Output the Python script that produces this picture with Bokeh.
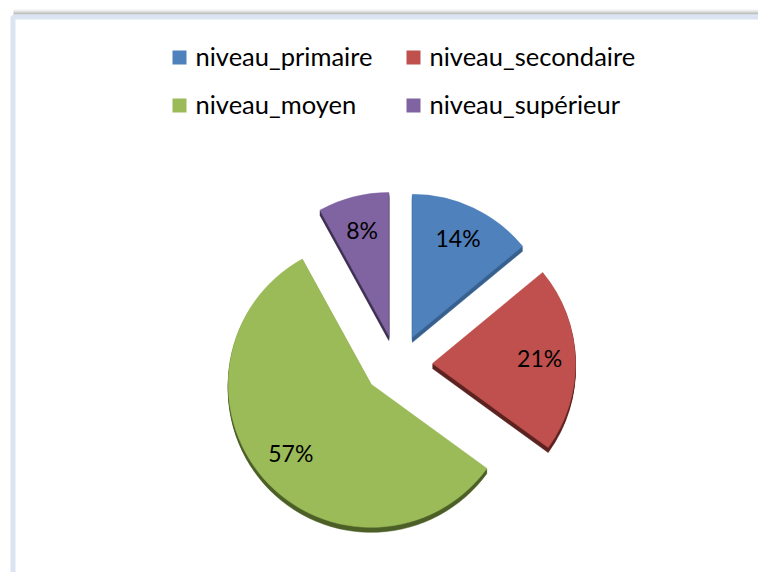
import numpy as np
from bokeh.plotting import figure
from bokeh.models import Range1d, ColumnDataSource
from bokeh.core.properties import value
from bokeh.embed import file_html
from bokeh.resources import INLINE

# ---- data ----
categories = ["niveau_primaire", "niveau_secondaire", "niveau_moyen", "niveau_supérieur"]
percentages = [14, 21, 57, 8]
labels = ["14%", "21%", "57%", "8%"]
top_colors = ["#4f81bd", "#c0504d", "#9bbb59", "#8064a2"]
side_colors = ["#37608f", "#5c2220", "#4b5f26", "#3e3052"]

# ---- layout ----
W, H = 758, 572


def sy(y):
    """picture y (from top) -> data y"""
    return H - y


p = figure(width=W, height=H, output_backend="svg", toolbar_location=None,
           x_range=Range1d(0, W), y_range=Range1d(0, H),
           x_axis_type=None, y_axis_type=None, min_border=0,
           background_fill_color="white", border_fill_color="white")
p.outline_line_color = None
p.grid.visible = False

# frame shadow (above the top edge)
shadow = [("#f1f1f1", 9), ("#e3e3e3", 10), ("#d0d0d0", 11), ("#b8b8b8", 12), ("#a4a4a4", 13)]
for col, yy in shadow:
    p.segment(x0=[13], y0=[sy(yy + 0.5)], x1=[800], y1=[sy(yy + 0.5)], line_color=col, line_width=1)
# chart frame
p.quad(left=[12.5], right=[820], top=[sy(16.5)], bottom=[-50], fill_color="white",
       line_color="#dbe5f1", line_width=5)

# ---- pie geometry ----
frac = np.array(percentages, dtype=float) / sum(percentages)
ends = np.cumsum(frac) * 360.0
starts = ends - frac * 360.0
mids = np.deg2rad((starts + ends) / 2.0)
CX, CY = 397.0, sy(364)
R = 143.0
EX, EY = 35.0, 30.0
DEPTH = 5
xs = CX + EX * np.sin(mids)
ys = CY + EY * np.cos(mids)
sa = np.deg2rad(90.0 - ends)
ea = np.deg2rad(90.0 - starts)

# side (3D thickness)
for k in range(1, DEPTH + 1):
    p.wedge(x=list(xs), y=list(ys - k), radius=R, start_angle=list(sa), end_angle=list(ea),
            direction="anticlock", fill_color=side_colors,
            line_color=side_colors, line_width=0.5)

src = ColumnDataSource(dict(x=xs, y=ys, sa=sa, ea=ea, color=top_colors))
p.wedge(x="x", y="y", radius=R, start_angle="sa", end_angle="ea",
        direction="anticlock", fill_color="color", line_color="color", line_width=0.5, source=src)

# labels
LR = 0.75 * R
lab = ColumnDataSource(dict(x=xs + LR * np.sin(mids), y=ys + LR * np.cos(mids) + 2, t=labels))
p.text(x="x", y="y", text="t", source=lab, text_align="center", text_baseline="middle",
       text_font=value("Lato"), text_font_size="23px", text_color="black")

# ---- legend (2 columns) ----
col_x = [172, 406]
row_y = [57, 105]
lx, ly, tx, ty = [], [], [], []
for i, name in enumerate(categories):
    c, r = i % 2, i // 2
    lx.append(col_x[c] + 7)
    ly.append(sy(row_y[r]))
    tx.append(col_x[c] + 23)
    ty.append(sy(row_y[r] - 2))
p.rect(x=lx, y=ly, width=14, height=14, fill_color=top_colors, line_color=None)
p.text(x=tx, y=ty, text=categories, text_align="left", text_baseline="alphabetic",
       text_font=value("Lato"), text_font_size="25.5px", text_color="black")

open("out.html", "w").write(file_html(p, INLINE))
